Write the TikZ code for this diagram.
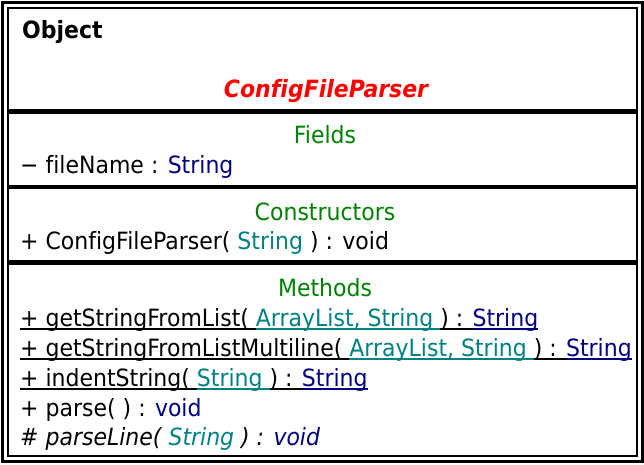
\documentclass[tikz,border=0pt]{standalone}
\usepackage{fontspec}
\setmainfont{DejaVu Sans}[Ligatures={NoCommon}]
\definecolor{hdgreen}{RGB}{0,128,0}
\definecolor{rtype}{RGB}{0,0,128}
\definecolor{ptype}{RGB}{0,128,128}
\definecolor{clsred}{RGB}{255,0,0}
\newcommand{\ulseg}[1]{\setbox0\hbox{#1}\rlap{\rule[-3.3pt]{\wd0}{1.5pt}}\box0}
\newcommand{\tall}[1]{\scalebox{1}[1.08]{#1}}
\begin{document}
\begin{tikzpicture}[x=1pt,y=-1pt,
  txt/.style={inner sep=0pt, anchor=base west, font=\fontsize{22}{26}\selectfont},
  ctr/.style={inner sep=0pt, anchor=base, font=\fontsize{22}{26}\selectfont},
  frame/.style={line width=2.4pt},
  sep/.style={line width=4.5pt}]
\useasboundingbox (0,0) rectangle (644,464);
\draw[frame] (2.5,2.5) rectangle (642.5,461.5);
\draw[frame] (7.8,7.8) rectangle (637.2,456.2);
\draw[sep] (7.8,111.5) -- (637.2,111.5);
\draw[sep] (7.8,187) -- (637.2,187);
\draw[sep] (7.8,262.5) -- (637.2,262.5);
\node[txt] (obj) at (22,38) {\tall{\bfseries Object}};
\node[ctr, text=clsred] (cls) at (326,97) {\tall{\bfseries\itshape ConfigFileParser}};
\node[ctr, text=hdgreen] (fh) at (325,143) {\tall{Fields}};
\node[txt] (f1) at (20,173) {\tall{− fileName : \textcolor{rtype}{String}}};
\node[ctr, text=hdgreen] (ch) at (325,220) {\tall{Constructors}};
\node[txt] (c1) at (20,249) {\tall{+ ConfigFileParser( \textcolor{ptype}{String} ) : void}};
\node[ctr, text=hdgreen] (mh) at (325,296) {\tall{Methods}};
\node[txt] (m1) at (20,326) {\tall{\ulseg{+ getStringFromList( }\textcolor{ptype}{\ulseg{ArrayList, String }}\ulseg{) : }\textcolor{rtype}{\ulseg{String}}}};
\node[txt] (m2) at (20,356) {\tall{\ulseg{+ getStringFromListMultiline( }\textcolor{ptype}{\ulseg{ArrayList, String }}\ulseg{) : }\textcolor{rtype}{\ulseg{String}}}};
\node[txt] (m3) at (20,386) {\tall{\ulseg{+ indentString( }\textcolor{ptype}{\ulseg{String }}\ulseg{) : }\textcolor{rtype}{\ulseg{String}}}};
\node[txt] (m4) at (20,416) {\tall{+ parse( ) : \textcolor{rtype}{void}}};
\node[txt] (m5) at (20,445) {\tall{\itshape \# parseLine( \textcolor{ptype}{String} ) : \textcolor{rtype}{void}}};
\end{tikzpicture}
\end{document}
